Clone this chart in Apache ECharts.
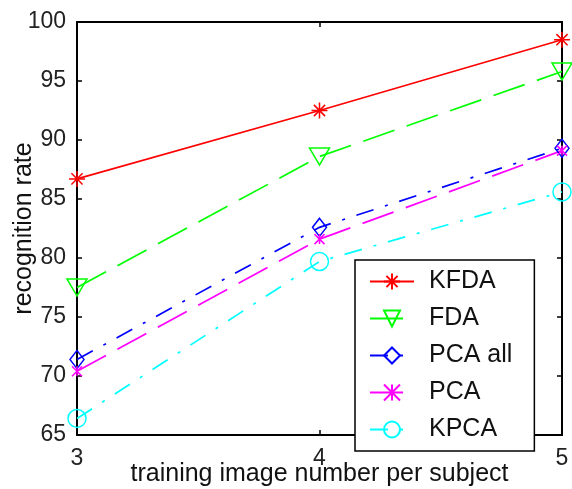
<!DOCTYPE html>
<html><head><meta charset="utf-8">
<script src="https://cdn.jsdelivr.net/npm/echarts@6/dist/echarts.min.js"></script>
<style>html,body{margin:0;padding:0;background:#fff}#c{width:572px;height:489px}</style>
</head><body><div id="c"></div>
<script>
const xValues = [3, 4, 5];
const kfda = [86.7, 92.5, 98.5];
const fda = [77.5, 88.6, 95.8];
const pcaAll = [71.4, 82.6, 89.3];
const pca = [70.4, 81.6, 89.1];
const kpca = [66.4, 79.7, 85.6];
const seriesNames = ['KFDA', 'FDA', 'PCA all', 'PCA', 'KPCA'];
const xTitle = 'training image number per subject';
const yTitle = 'recognition rate';

const FONT = '"Liberation Sans", Arial, sans-serif';
const pts = arr => xValues.map((x, i) => [x, arr[i]]);

function mk(name, data, color, dash, symbol, size) {
  return {
    name, type: 'line', data: pts(data),
    symbol, symbolSize: size,
    lineStyle: { color, width: 1.7, type: dash },
    itemStyle: { color: 'rgba(0,0,0,0)', borderColor: color, borderWidth: 1.5 },
    emphasis: { disabled: true },
    z: 3
  };
}
const asterisk = 'path://M0,-10L0,10M-10,0L10,0M-7,-7L7,7M-7,7L7,-7';
const tri = 'path://M0,0L20,0L10,17Z';
const diamond = 'path://M7,0L14,9L7,18L0,9Z';
const cross = 'path://M0,0L10,10M0,10L10,0M5,0L5,10';

const axisCommon = {
  type: 'value',
  axisLine: { show: true, onZero: false, lineStyle: { color: '#000', width: 2 } },
  axisTick: { show: true, inside: true, length: 5, lineStyle: { color: '#000', width: 1.5 } },
  splitLine: { show: false }
};

const chart = echarts.init(document.getElementById('c'), null, { renderer: 'canvas' });
chart.setOption({
  animation: false,
  backgroundColor: '#fff',
  grid: { left: 77, top: 22, right: 10, bottom: 54, containLabel: false, outerBoundsMode: 'none' },
  xAxis: [
    Object.assign({}, axisCommon, {
      min: 3, max: 5, interval: 1, position: 'bottom',
      name: xTitle, nameLocation: 'middle', nameGap: 27, nameMoveOverlap: false,
      nameTextStyle: { fontFamily: FONT, fontSize: 25, color: '#111' },
      axisLabel: { fontFamily: FONT, fontSize: 23, color: '#222', margin: 12 }
    }),
    Object.assign({}, axisCommon, {
      min: 3, max: 5, interval: 1, position: 'top', axisLabel: { show: false }
    })
  ],
  yAxis: [
    Object.assign({}, axisCommon, {
      min: 65, max: 100, interval: 5, position: 'left',
      name: yTitle, nameLocation: 'middle', nameGap: 40, nameMoveOverlap: false,
      nameTextStyle: { fontFamily: FONT, fontSize: 25, color: '#111' },
      axisLabel: { fontFamily: FONT, fontSize: 23, color: '#222', margin: 11 }
    }),
    Object.assign({}, axisCommon, {
      min: 65, max: 100, interval: 5, position: 'right', axisLabel: { show: false }
    })
  ],
  legend: {
    left: 355, top: 260, orient: 'vertical',
    backgroundColor: '#fff', borderColor: '#000', borderWidth: 1.5,
    padding: [9, 22, 9, 14], itemGap: 12, itemWidth: 44, itemHeight: 20,
    textStyle: { fontFamily: FONT, fontSize: 25, color: '#111', lineHeight: 20, padding: [0, 0, 0, 10] },
    data: seriesNames
  },
  series: [
    mk(seriesNames[0], kfda, '#ff0000', 'solid', asterisk, 16),
    mk(seriesNames[1], fda, '#00ff00', [33, 13], tri, [20, 17]),
    mk(seriesNames[2], pcaAll, '#0000ff', [18, 12, 3, 12], diamond, [14, 18]),
    mk(seriesNames[3], pca, '#ff00ff', [33, 13], cross, 10),
    mk(seriesNames[4], kpca, '#00ffff', [18, 12, 3, 12], 'circle', 18)
  ]
});
</script></body></html>
